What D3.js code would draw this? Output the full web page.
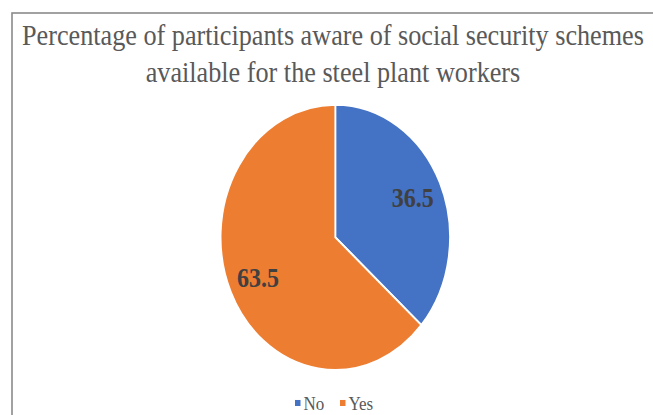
<!DOCTYPE html>
<html>
<head>
<meta charset="utf-8">
<script src="https://cdn.jsdelivr.net/npm/d3@7"></script>
<style>
  html, body { margin: 0; padding: 0; background: #fff; }
  svg { display: block; }
</style>
</head>
<body>
<svg id="chart" width="653" height="415"></svg>
<script>
const categories = ["No", "Yes"];
const values = [36.5, 63.5];
const colors = ["#4472C4", "#ED7D31"];
const titleLines = ["Percentage of participants aware of social security schemes",
                    "available for the steel plant workers"];

const W = 653, H = 415;
const k = 1.157; // vertical stretch of the original image
const svg = d3.select("#chart");

// frame border
svg.append("rect")
  .attr("x", 12).attr("y", 13)
  .attr("width", 660).attr("height", 420)
  .attr("fill", "none").attr("stroke", "#8a8a8a").attr("stroke-width", 1.6);

const g = svg.append("g").attr("transform", `scale(1,${k})`);

// title
g.append("text")
  .attr("x", 333).attr("y", 38.9)
  .attr("text-anchor", "middle")
  .attr("font-family", "Liberation Serif, Times New Roman, serif")
  .attr("font-size", 26.2).attr("fill", "#595959")
  .selectAll("tspan").data(titleLines).join("tspan")
  .attr("x", 333).attr("dy", (d, i) => i === 0 ? 0 : 31.8)
  .text(d => d);

// pie
const cx = 335.3, cy = 205.1, R = 114.7;
const pie = d3.pie().sort(null).value(d => d.v);
const data = categories.map((c, i) => ({c, v: values[i], col: colors[i]}));
const arcs = pie(data);
const arc = d3.arc().innerRadius(0).outerRadius(R);
const labelArc = d3.arc().innerRadius(R * 0.74).outerRadius(R * 0.74);

const pg = g.append("g").attr("transform", `translate(${cx},${cy})`);
pg.selectAll("path").data(arcs).join("path")
  .attr("d", arc)
  .attr("fill", d => d.data.col)
  .attr("stroke", "#fff").attr("stroke-width", 1.8);

pg.selectAll("text").data(arcs).join("text")
  .attr("transform", d => `translate(${labelArc.centroid(d)})`)
  .attr("text-anchor", "middle")
  .attr("dy", "0.35em")
  .attr("font-family", "Liberation Serif, Times New Roman, serif")
  .attr("font-weight", "bold")
  .attr("font-size", 24).attr("fill", "#404040")
  .text(d => d.data.v);

// legend
const legendY = 348.3;
const legendX = d3.scalePoint().domain(categories).range([295, 340]);
const lg = g.selectAll("g.leg").data(data).join("g")
  .attr("class", "leg")
  .attr("transform", d => `translate(${legendX(d.c)},${legendY})`);
lg.append("rect")
  .attr("x", 0).attr("y", -2.6).attr("width", 5.5).attr("height", 5.2)
  .attr("fill", d => d.col);
lg.append("text")
  .attr("x", 8.5).attr("y", 0).attr("dy", "0.35em")
  .attr("font-family", "Liberation Serif, Times New Roman, serif")
  .attr("font-size", 17).attr("fill", "#595959")
  .text(d => d.c);
</script>
</body>
</html>
